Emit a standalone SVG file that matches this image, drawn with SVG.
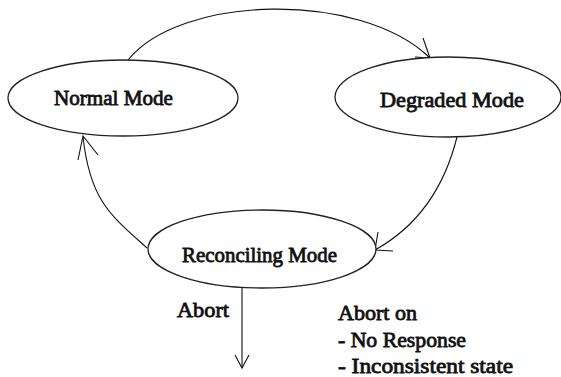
<svg xmlns="http://www.w3.org/2000/svg" width="561" height="377" viewBox="0 0 561 377">
<style>
.node ellipse{fill:#fff;stroke:#222;stroke-width:1.3}
.lbl{font-family:"Liberation Serif","DejaVu Serif",serif;font-weight:normal;font-size:21.5px;fill:#111;stroke:#111;stroke-width:0.8}
.conn path{fill:none;stroke:#111;stroke-width:1.1}
</style>
<rect width="561" height="377" fill="#fff"/>
<g id="connectors" class="conn">
<path d="M128,60 C180,-5 360,-10 430,58"/>
<path d="M423,38 L430,58 L415,57"/>
<path d="M457,137 C445,185 420,225 375,250"/>
<path d="M378,232 L375,250 L393,251"/>
<path d="M147,248 C110,215 90,200 83,137"/>
<path d="M78,160 L83,136 L98,155"/>
<path d="M242,288 V368"/>
<path d="M235,355 L242,368 L249,355"/>
</g>
<g id="normal" class="node">
<ellipse cx="123" cy="98" rx="115" ry="38"/>
<text class="lbl" x="54" y="105" textLength="119" lengthAdjust="spacingAndGlyphs">Normal Mode</text>
</g>
<g id="degraded" class="node">
<ellipse cx="448" cy="97" rx="113" ry="40"/>
<text class="lbl" x="380" y="107" textLength="144" lengthAdjust="spacingAndGlyphs">Degraded Mode</text>
</g>
<g id="reconciling" class="node">
<ellipse cx="262" cy="249" rx="114" ry="39"/>
<text class="lbl" x="182" y="262" textLength="155" lengthAdjust="spacingAndGlyphs">Reconciling Mode</text>
</g>
<g id="labels">
<text class="lbl" x="177" y="317" textLength="52" lengthAdjust="spacingAndGlyphs">Abort</text>
<text class="lbl" x="338" y="320" textLength="79" lengthAdjust="spacingAndGlyphs">Abort on</text>
<text class="lbl" x="338" y="347" textLength="128" lengthAdjust="spacingAndGlyphs">- No Response</text>
<text class="lbl" x="338" y="373" textLength="175" lengthAdjust="spacingAndGlyphs">- Inconsistent state</text>
</g>
</svg>
